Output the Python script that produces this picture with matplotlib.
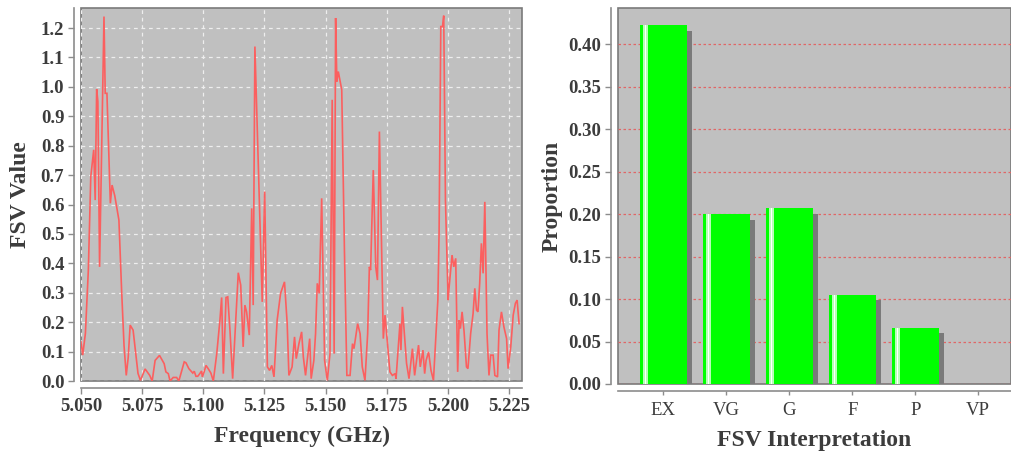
import matplotlib
matplotlib.use("Agg")
import matplotlib.pyplot as plt
import matplotlib.patheffects as pe
import numpy as np

# ---- FSV trace ----
freq_ghz = [
    5.0500, 5.0507, 5.0518, 5.0530, 5.0540, 5.0552, 5.0558, 5.0564, 5.0569, 5.0576,
    5.0594, 5.0599, 5.0606, 5.0620, 5.0627, 5.0638, 5.0648, 5.0655, 5.0666, 5.0676,
    5.0685, 5.0693, 5.0701, 5.0713, 5.0723, 5.0733, 5.0743, 5.0762, 5.0781, 5.0791,
    5.0803, 5.0821, 5.0840, 5.0847, 5.0857, 5.0864, 5.0877, 5.0891, 5.0900, 5.0922,
    5.0929, 5.0941, 5.0957, 5.0963, 5.0970, 5.0977, 5.0983, 5.0993, 5.0996, 5.1003,
    5.1011, 5.1020, 5.1031, 5.1041, 5.1055, 5.1068, 5.1075, 5.1082, 5.1093, 5.1100,
    5.1109, 5.1120, 5.1129, 5.1143, 5.1153, 5.1163, 5.1170, 5.1177, 5.1188, 5.1198,
    5.1204, 5.1211, 5.1241, 5.1251, 5.1262, 5.1271, 5.1280, 5.1289, 5.1302, 5.1316,
    5.1332, 5.1343, 5.1350, 5.1363, 5.1373, 5.1380, 5.1391, 5.1402, 5.1409, 5.1418,
    5.1435, 5.1441, 5.1452, 5.1459, 5.1466, 5.1474, 5.1484, 5.1496, 5.1507, 5.1518,
    5.1527, 5.1535, 5.1541, 5.1546, 5.1552, 5.1561, 5.1566, 5.1577, 5.1587, 5.1600,
    5.1610, 5.1616, 5.1631, 5.1641, 5.1650, 5.1661, 5.1672, 5.1679, 5.1684, 5.1695,
    5.1705, 5.1712, 5.1720, 5.1736, 5.1743, 5.1753, 5.1763, 5.1773, 5.1784, 5.1788,
    5.1797, 5.1804, 5.1808, 5.1814, 5.1824, 5.1831, 5.1841, 5.1855, 5.1864, 5.1880,
    5.1887, 5.1898, 5.1905, 5.1911, 5.1921, 5.1931, 5.1941, 5.1959, 5.1964, 5.1971,
    5.1978, 5.1983, 5.1990, 5.2001, 5.2004, 5.2017, 5.2024, 5.2032, 5.2040, 5.2046,
    5.2051, 5.2058, 5.2066, 5.2076, 5.2082, 5.2093, 5.2103, 5.2110, 5.2117, 5.2123,
    5.2130, 5.2137, 5.2144, 5.2151, 5.2160, 5.2168, 5.2175, 5.2185, 5.2192, 5.2203,
    5.2209, 5.2219, 5.2229, 5.2240, 5.2246, 5.2257, 5.2267, 5.2276, 5.2283, 5.2291,
]
fsv_value = [
    0.133, 0.088, 0.162, 0.377, 0.695, 0.786, 0.615, 0.992, 0.950, 0.388,
    1.239, 0.978, 0.978, 0.604, 0.666, 0.630, 0.581, 0.547, 0.309, 0.120,
    0.019, 0.080, 0.190, 0.173, 0.100, 0.026, 0.002, 0.041, 0.019, 0.000,
    0.070, 0.087, 0.059, 0.031, 0.025, 0.000, 0.012, 0.012, 0.000, 0.065,
    0.062, 0.042, 0.027, 0.033, 0.016, 0.016, 0.022, 0.034, 0.014, 0.030,
    0.053, 0.042, 0.027, 0.000, 0.093, 0.207, 0.284, 0.025, 0.284, 0.286,
    0.173, 0.008, 0.150, 0.368, 0.326, 0.116, 0.258, 0.235, 0.156, 0.587,
    0.258, 1.137, 0.269, 0.644, 0.048, 0.036, 0.053, 0.014, 0.207, 0.298,
    0.337, 0.195, 0.019, 0.048, 0.150, 0.076, 0.127, 0.167, 0.082, 0.019,
    0.144, 0.008, 0.070, 0.161, 0.332, 0.298, 0.621, 0.070, 0.002, 0.093,
    0.956, 0.093, 1.234, 1.018, 1.052, 1.013, 0.990, 0.445, 0.019, 0.019,
    0.127, 0.110, 0.195, 0.161, 0.048, 0.002, 0.161, 0.388, 0.377, 0.717,
    0.388, 0.343, 0.848, 0.144, 0.224, 0.127, 0.031, 0.019, 0.025, 0.008,
    0.116, 0.195, 0.105, 0.252, 0.139, 0.060, 0.008, 0.110, 0.019, 0.122,
    0.048, 0.105, 0.025, 0.070, 0.099, 0.036, 0.002, 0.275, 0.502, 1.205,
    1.205, 1.242, 0.615, 0.275, 0.310, 0.428, 0.388, 0.417, 0.031, 0.207,
    0.178, 0.235, 0.170, 0.048, 0.042, 0.161, 0.229, 0.315, 0.241, 0.235,
    0.332, 0.468, 0.366, 0.609, 0.161, 0.019, 0.088, 0.088, 0.019, 0.014,
    0.173, 0.235, 0.184, 0.144, 0.042, 0.116, 0.224, 0.264, 0.275, 0.195,
]
freq_ticks = [5.050, 5.075, 5.100, 5.125, 5.150, 5.175, 5.200, 5.225]
fsv_ticks = [0.0, 0.1, 0.2, 0.3, 0.4, 0.5, 0.6, 0.7, 0.8, 0.9, 1.0, 1.1, 1.2]

# ---- FSV interpretation histogram ----
categories = ["EX", "VG", "G", "F", "P", "VP"]
proportions = [0.422, 0.200, 0.207, 0.105, 0.066, 0.000]
prop_ticks = [0.00, 0.05, 0.10, 0.15, 0.20, 0.25, 0.30, 0.35, 0.40]

SERIF = ["Liberation Serif", "DejaVu Serif"]
TEXT = "#3c3c3c"
PLOT_BG = "#c0c0c0"
AXIS_GRAY = "#8c8c8c"

plt.rcParams["font.family"] = SERIF

W, H = 1011, 455
fig = plt.figure(figsize=(W / 100, H / 100), dpi=100)
fig.patch.set_facecolor("white")


def px_axes(x0, y0, x1, y1):
    return fig.add_axes([x0 / W, (H - y1) / H, (x1 - x0) / W, (y1 - y0) / H])


def style_axes(ax):
    ax.set_facecolor(PLOT_BG)
    ax.patch.set_edgecolor("#7a7a7a")
    ax.patch.set_linewidth(1.2)
    for side in ("top", "right"):
        ax.spines[side].set_visible(False)
    for side in ("left", "bottom"):
        ax.spines[side].set_position(("outward", 5))
        ax.spines[side].set_color(AXIS_GRAY)
        ax.spines[side].set_linewidth(1.2)
    ax.tick_params(axis="both", direction="out", length=4, width=1,
                   color=AXIS_GRAY, labelcolor=TEXT, pad=3)


# ---------------- left: FSV vs frequency ----------------
ax1 = px_axes(81, 8, 522, 381)
style_axes(ax1)
ax1.plot(freq_ghz, fsv_value, color="#ff5a5a", lw=1.2, solid_joinstyle="miter",
         alpha=0.95, zorder=3)
ax1.set_xlim(5.050, 5.2303)
ax1.set_ylim(0.0, 1.268)
ax1.set_xticks(freq_ticks)
ax1.set_xticklabels([f"{t:.3f}" for t in freq_ticks], fontsize=13.5,
                    fontweight="bold")
ax1.set_yticks(fsv_ticks)
ax1.set_yticklabels([f"{t:.1f}" for t in fsv_ticks], fontsize=13.5,
                    fontweight="bold")
ax1.grid(True, color="#eeeeee", lw=0.9, ls=(0, (3, 3)), zorder=1)
ax1.set_axisbelow(True)
ax1.set_xlabel("Frequency (GHz)", fontsize=17, fontweight="bold", color=TEXT,
               labelpad=8)
ax1.set_ylabel("FSV Value", fontsize=17, fontweight="bold", color=TEXT,
               labelpad=7)

# ---------------- right: proportion per interpretation ----------------
ax2 = px_axes(618, 8, 1011, 384)
style_axes(ax2)
xpos = np.arange(len(categories))
bar_w = 0.754
bars = ax2.bar(xpos, proportions, width=bar_w, color="#00ff00", edgecolor="none",
               zorder=3)
for b, v in zip(bars, proportions):
    if v > 0:
        b.set_path_effects([
            pe.SimplePatchShadow(offset=(3.8, -4.0), shadow_rgbFace="#7a7a7a",
                                 alpha=1.0),
            pe.Normal(),
        ])
    else:
        b.set_visible(False)
# glossy stripe near the left edge of each bar
nz = [v if v > 0 else np.nan for v in proportions]
ax2.bar(xpos - bar_w / 2 + 0.095, nz, width=0.075, color="#b8ffb8",
        edgecolor="none", zorder=4)
ax2.bar(xpos - bar_w / 2 + 0.095, nz, width=0.03, color="white",
        edgecolor="none", zorder=5)

ax2.set_xlim(-0.719, 5.52)
ax2.set_ylim(0.0, 0.4425)
ax2.set_yticks(prop_ticks)
ax2.set_yticklabels([f"{t:.2f}" for t in prop_ticks], fontsize=13.5,
                    fontweight="bold")
ax2.set_xticks(xpos)
ax2.set_xticklabels(categories, fontsize=13.5)
ax2.tick_params(axis="x", length=3, pad=5)
ax2.yaxis.grid(True, color="#e06666", lw=0.9, ls=(0, (2, 2)), zorder=1)
ax2.xaxis.grid(False)
ax2.set_axisbelow(True)
ax2.set_xlabel("FSV Interpretation", fontsize=17, fontweight="bold",
               color=TEXT, labelpad=8)
ax2.set_ylabel("Proportion", fontsize=17, fontweight="bold", color=TEXT,
               labelpad=4)

fig.savefig("out.png", dpi=100, facecolor="white")
